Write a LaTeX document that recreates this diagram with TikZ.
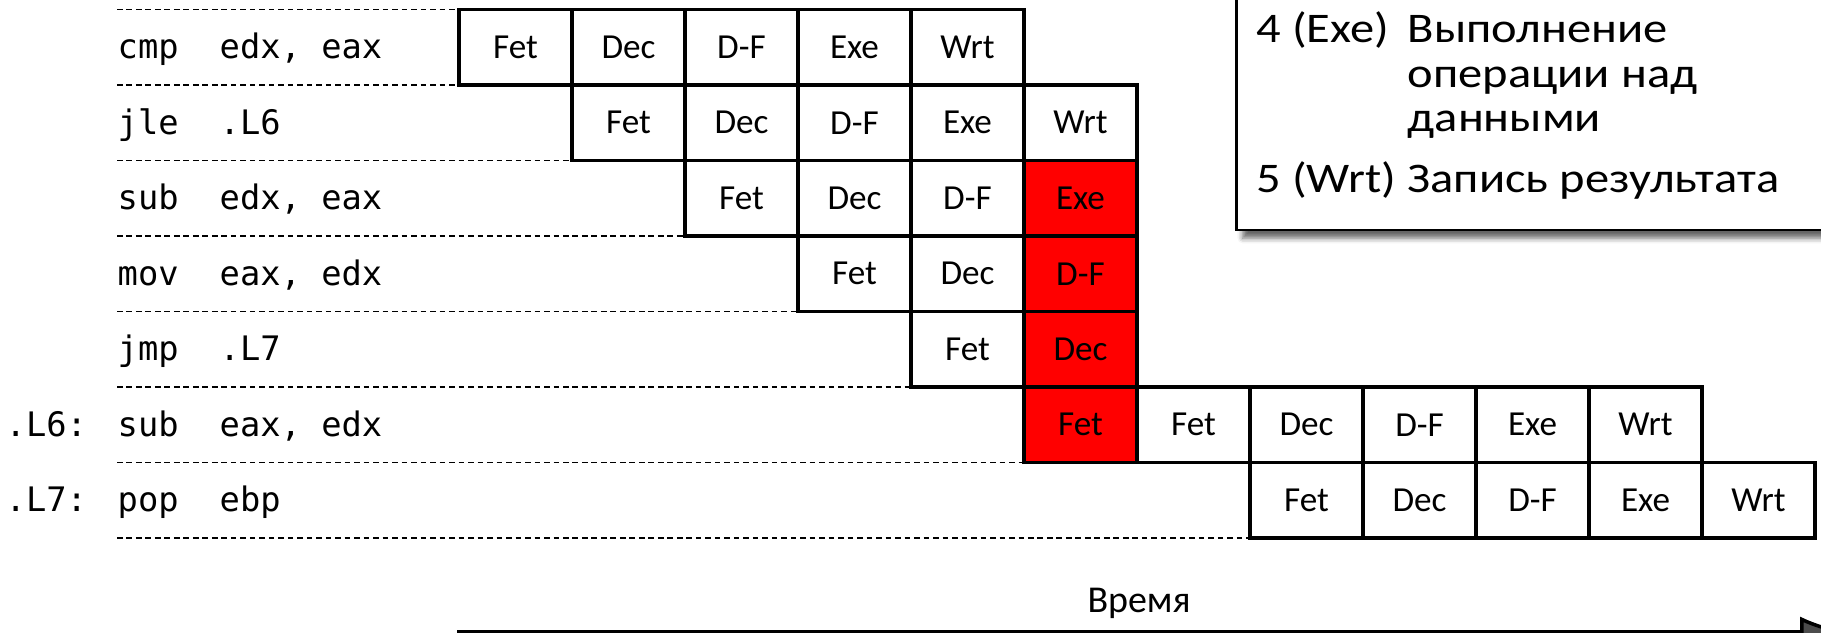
\documentclass[tikz,border=0pt]{standalone}
\usepackage{fontspec}
\setmainfont{Carlito}
\setmonofont{DejaVu Sans Mono}
\newfontfamily\legendfont[FakeStretch=1.15]{Carlito}
\usetikzlibrary{positioning,arrows.meta,shadows.blur}

\tikzset{
  stage/.style={draw, line width=0.9pt, minimum width=1.13cm, minimum height=0.755cm,
    inner sep=0pt, outer sep=0pt, font=\fontsize{10}{12}\selectfont},
  stall/.style={stage, fill=red},
  asm/.style={anchor=base west, inner sep=0pt, font=\ttfamily\fontsize{9.6}{12}\selectfont},
  legend/.style={anchor=base west, inner sep=0pt, font=\legendfont\fontsize{12}{14}\selectfont},
  rowline/.style={line width=0.5pt, dash pattern=on 1.6pt off 1.1pt}
}

\begin{document}
\begin{tikzpicture}
  \useasboundingbox (0,0) rectangle (18.21,-6.33);
  % Pipeline stages: row / first column / stages
  \foreach \r/\first/\stages in {0/0/{Fet,Dec,D-F,Exe,Wrt},1/1/{Fet,Dec,D-F,Exe,Wrt},2/2/{Fet,Dec,D-F},3/3/{Fet,Dec},4/4/{Fet},5/6/{Fet,Dec,D-F,Exe,Wrt},6/7/{Fet,Dec,D-F,Exe,Wrt}}
    \foreach \s [count=\i from \first] in \stages
      \node[stage] (s-\r-\i) at ({4.59+1.13*(\i+0.5)},{-0.095-0.755*(\r+0.5)}) {\s};
  % Stalled stages
  \foreach \r/\s in {2/Exe,3/D-F,4/Dec,5/Fet}
    \node[stall] (s-\r-5) at ({4.59+1.13*5.5},{-0.095-0.755*(\r+0.5)}) {\s};

  % Code
  \coordinate (codeleft) at (1.17,0);
  \foreach \r/\op/\args in {0/cmp/{edx, eax},1/jle/.L6,2/sub/{edx, eax},3/mov/{eax, edx},4/jmp/.L7,5/sub/{eax, edx},6/pop/ebp} {
    \node[asm] (op\r) at (1.17,{-0.095-0.755*(\r+0.5)-0.114}) {\op};
    \node[asm] (args\r) at (2.19,{-0.095-0.755*(\r+0.5)-0.114}) {\args};
  }
  \node[asm] (lbl5) at (0.05,{-0.095-0.755*5.5-0.114}) {.L6:};
  \node[asm] (lbl6) at (0.05,{-0.095-0.755*6.5-0.114}) {.L7:};
  % Row separators
  \foreach \cell in {s-0-0.north west,s-0-0.south west,s-1-1.south west,s-2-2.south west,s-3-3.south west,s-4-4.south west,s-5-5.south west,s-6-7.south west}
    \draw[rowline] (codeleft |- \cell) -- (\cell);

  % Legend
  \coordinate (legSW) at (12.367,-2.30);
  \coordinate (legNE) at (18.6,0.3);
  \draw[line width=0.8pt, fill=white, blur shadow={shadow xshift=1.7pt, shadow yshift=-2.3pt, shadow blur radius=1.5pt, shadow opacity=60}] (legSW) rectangle (legNE);
  \node[legend] (leg4) at (12.56,-0.43) {4 (Exe)};
  \node[legend] (exe1) at (14.07,-0.43) {Выполнение};
  \node[legend] (exe2) at (14.07,-0.88) {операции над};
  \node[legend] (exe3) at (14.07,-1.32) {данными};
  \node[legend] (leg5) at (12.56,-1.93) {5 (Wrt)};
  \node[legend] (wrt1) at (14.07,-1.93) {Запись результата};

  % Time axis
  \coordinate (t0) at (4.57,-6.315);
  \coordinate (t1) at (18.45,-6.315);
  \draw[line width=1pt, -{Latex[length=0.45cm,width=0.3cm]}] (t0) -- (t1);
  \node[font=\fontsize{10.8}{12}\selectfont, anchor=base] (time) at (11.39,-6.13) {Время};
\end{tikzpicture}
\end{document}
